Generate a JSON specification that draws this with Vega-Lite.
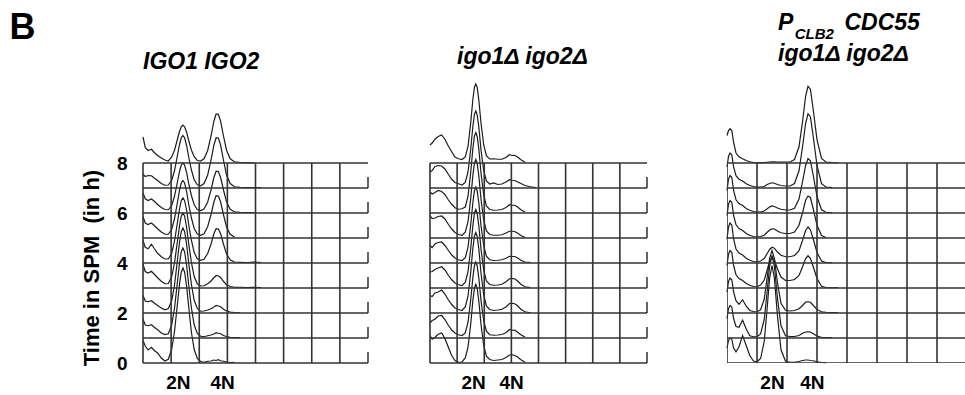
{
  "$schema": "https://vega.github.io/schema/vega-lite/v6.json",
  "background": "white",
  "padding": {"left": 9, "top": 10, "right": 0, "bottom": 0},
  "title": {"text": "B", "fontSize": 36, "fontStyle": "normal", "fontWeight": "bold", "anchor": "start", "frame": "group", "dx": -133.6, "offset": -35, "color": "black"},
  "spacing": 62,
  "bounds": "flush",
  "config": {
    "font": "Liberation Sans",
    "view": {"stroke": null},
    "axis": {"domain": false, "ticks": false, "tickSize": 0, "grid": false, "labelColor": "black", "titleColor": "black", "labelFontWeight": "bold", "titleFontWeight": "bold", "labelFont": "Liberation Sans", "titleFont": "Liberation Sans"},
    "axisX": {"labelFontSize": 19, "labelPadding": 10, "labelAngle": 0, "labelFlush": false, "labelOverlap": false},
    "axisY": {"labelFontSize": 19, "labelPadding": 16, "labelFlush": false, "labelOverlap": false},
    "title": {"font": "Liberation Sans", "fontSize": 23, "fontWeight": "bold", "fontStyle": "italic", "color": "black", "anchor": "start", "frame": "group"}
  },
  "datasets": {
    "p1": [
      {"t": 0, "x": [0,0.08,0.18,0.3,0.4,0.52,0.65,0.78,0.9,1.02,1.12,1.22,1.3,1.36,1.42,1.48,1.55,1.63,1.72,1.82,1.93,2.05,2.17,2.3,2.42,2.52,2.6,2.68,2.76,2.86,2.97,3.1,3.25], "y": [0.9,0.68,0.52,0.63,0.5,0.4,0.2,0.08,0.15,0.55,1.26,2.32,3.17,3.63,3.8,3.63,3.08,2.19,1.24,0.54,0.18,0.06,0.03,0.07,0.08,0.12,0.1,0.13,0.09,0.07,0.04,0.02,0.03]},
      {"t": 1, "x": [0,0.08,0.18,0.3,0.4,0.52,0.65,0.78,0.9,1.02,1.12,1.22,1.3,1.36,1.42,1.48,1.55,1.63,1.72,1.82,1.93,2.05,2.17,2.3,2.42,2.52,2.6,2.68,2.76,2.86,2.97,3.1,3.25,3.45], "y": [1.75,1.52,1.49,1.53,1.43,1.33,1.2,1.14,1.17,1.52,2.19,3.2,4.0,4.44,4.6,4.44,3.92,3.07,2.21,1.53,1.18,1.07,1.05,1.09,1.12,1.16,1.21,1.19,1.17,1.1,1.06,1.03,1.02,1.01]},
      {"t": 2, "x": [0,0.08,0.18,0.3,0.4,0.52,0.65,0.78,0.9,1.02,1.12,1.22,1.3,1.36,1.42,1.48,1.55,1.63,1.72,1.82,1.93,2.05,2.17,2.3,2.42,2.52,2.6,2.68,2.76,2.86,2.97,3.1,3.25,3.45], "y": [2.7,2.48,2.45,2.49,2.4,2.3,2.2,2.13,2.18,2.49,3.11,4.07,4.84,5.25,5.4,5.25,4.75,3.96,3.15,2.51,2.18,2.07,2.08,2.12,2.17,2.24,2.3,2.28,2.25,2.15,2.08,2.04,2.02,2.01]},
      {"t": 3, "x": [0,0.08,0.18,0.3,0.4,0.52,0.65,0.78,0.9,1.02,1.12,1.22,1.3,1.36,1.42,1.48,1.55,1.63,1.72,1.82,1.93,2.05,2.17,2.3,2.42,2.52,2.6,2.68,2.76,2.86,2.97,3.1,3.25,3.45,3.7,3.95,4.2], "y": [3.95,3.66,3.6,3.67,3.55,3.41,3.27,3.17,3.18,3.45,4.0,4.83,5.5,5.87,6.0,5.87,5.43,4.73,4.03,3.46,3.17,3.08,3.09,3.17,3.28,3.41,3.5,3.48,3.42,3.27,3.13,3.06,3.03,3.03,3.02,3.03,3.02]},
      {"t": 4, "x": [0,0.08,0.18,0.3,0.4,0.52,0.65,0.78,0.9,1.02,1.12,1.22,1.3,1.36,1.42,1.48,1.55,1.63,1.72,1.82,1.93,2.05,2.17,2.3,2.42,2.52,2.6,2.68,2.76,2.86,2.97,3.1,3.25,3.45,3.7,3.95,4.2], "y": [4.9,4.63,4.57,4.75,4.58,4.39,4.25,4.16,4.16,4.39,4.87,5.59,6.17,6.49,6.6,6.49,6.11,5.5,4.91,4.42,4.17,4.11,4.15,4.38,4.76,5.17,5.37,5.36,5.17,4.76,4.36,4.13,4.04,4.03,4.02,4.04,4.02]},
      {"t": 5, "x": [0,0.08,0.18,0.3,0.4,0.52,0.65,0.78,0.9,1.02,1.12,1.22,1.3,1.36,1.42,1.48,1.55,1.63,1.72,1.82,1.93,2.05,2.17,2.3,2.42,2.52,2.6,2.68,2.76,2.86,2.97,3.1,3.25], "y": [5.85,5.6,5.54,5.6,5.5,5.37,5.24,5.15,5.15,5.34,5.77,6.4,6.92,7.2,7.3,7.2,6.86,6.32,5.81,5.38,5.16,5.11,5.17,5.46,5.94,6.44,6.69,6.68,6.44,5.94,5.44,5.15,5.04]},
      {"t": 6, "x": [0,0.08,0.18,0.3,0.4,0.52,0.65,0.78,0.9,1.02,1.12,1.22,1.3,1.36,1.42,1.48,1.55,1.63,1.72,1.82,1.93,2.05,2.17,2.3,2.42,2.52,2.6,2.68,2.76,2.86,2.97,3.1,3.25,3.45,3.7,3.95], "y": [6.8,6.57,6.5,6.56,6.47,6.34,6.22,6.14,6.13,6.3,6.67,7.22,7.67,7.91,8.0,7.91,7.62,7.15,6.7,6.33,6.14,6.1,6.16,6.44,6.93,7.42,7.67,7.66,7.42,6.93,6.44,6.15,6.05,6.03,6.02,6.02]},
      {"t": 7, "x": [0,0.08,0.18,0.3,0.4,0.52,0.65,0.78,0.9,1.02,1.12,1.22,1.3,1.36,1.42,1.48,1.55,1.63,1.72,1.82,1.93,2.05,2.17,2.3,2.42,2.52,2.6,2.68,2.76,2.86,2.97,3.1,3.25,3.45,3.7,3.95,4.2], "y": [7.55,7.46,7.5,7.49,7.4,7.3,7.18,7.11,7.12,7.3,7.69,8.28,8.75,9.01,9.1,9.01,8.7,8.21,7.73,7.33,7.13,7.09,7.18,7.52,8.12,8.71,9.01,9.0,8.71,8.12,7.52,7.18,7.05,7.03,7.02,7.02,7.01]},
      {"t": 8, "x": [0,0.08,0.18,0.3,0.4,0.52,0.65,0.78,0.9,1.02,1.12,1.22,1.3,1.36,1.42,1.48,1.55,1.63,1.72,1.82,1.93,2.05,2.17,2.3,2.42,2.52,2.6,2.68,2.76,2.86,2.97,3.1,3.25,3.45,3.7,3.95], "y": [9.04,8.62,8.5,8.55,8.42,8.3,8.2,8.12,8.08,8.24,8.51,8.93,9.27,9.45,9.52,9.45,9.23,8.88,8.52,8.25,8.1,8.08,8.17,8.5,9.09,9.67,9.96,9.95,9.67,9.09,8.51,8.17,8.05,8.02,8.01,8.0]}
    ],
    "p2": [
      {"t": 0, "x": [0,0.08,0.18,0.3,0.43,0.55,0.68,0.8,0.92,1.05,1.18,1.3,1.4,1.5,1.58,1.64,1.69,1.74,1.8,1.88,1.98,2.08,2.2,2.35,2.5,2.65,2.8,2.93,3.03,3.12,3.22,3.35,3.5], "y": [1.1,0.95,1.02,1.15,1.2,0.98,0.62,0.3,0.1,0.03,0.04,0.2,0.62,1.55,2.5,3.0,3.15,2.98,2.48,1.55,0.7,0.27,0.14,0.1,0.12,0.14,0.22,0.32,0.33,0.3,0.25,0.13,0.04]},
      {"t": 1, "x": [0,0.08,0.18,0.3,0.43,0.55,0.68,0.8,0.92,1.05,1.18,1.3,1.4,1.5,1.58,1.64,1.69,1.74,1.8,1.88,1.98,2.08,2.2,2.35,2.5,2.65,2.8,2.93,3.03,3.12,3.22,3.35,3.5], "y": [1.6,1.7,1.75,1.88,1.9,1.74,1.5,1.32,1.2,1.13,1.1,1.2,1.62,2.52,3.42,3.9,4.04,3.88,3.4,2.5,1.68,1.27,1.13,1.11,1.12,1.14,1.21,1.34,1.31,1.32,1.24,1.13,1.04]},
      {"t": 2, "x": [0,0.08,0.18,0.3,0.43,0.55,0.68,0.8,0.92,1.05,1.18,1.3,1.4,1.5,1.58,1.64,1.69,1.74,1.8,1.88,1.98,2.08,2.2,2.35,2.5,2.65,2.8,2.93,3.03,3.12,3.22,3.35,3.5,3.7], "y": [2.7,2.66,2.8,2.84,2.92,2.76,2.52,2.34,2.2,2.14,2.1,2.24,2.66,3.62,4.58,5.08,5.22,5.06,4.57,3.6,2.72,2.28,2.14,2.1,2.12,2.15,2.24,2.38,2.39,2.37,2.3,2.15,2.05,2.01]},
      {"t": 3, "x": [0,0.08,0.18,0.3,0.43,0.55,0.68,0.8,0.92,1.05,1.18,1.3,1.4,1.5,1.58,1.64,1.69,1.74,1.8,1.88,1.98,2.08,2.2,2.35,2.5,2.65,2.8,2.93,3.03,3.12,3.22,3.35,3.5,3.7], "y": [3.64,3.66,3.74,3.8,3.85,3.72,3.5,3.33,3.2,3.13,3.1,3.22,3.64,4.57,5.5,6.0,6.14,5.98,5.49,4.56,3.71,3.28,3.14,3.11,3.12,3.15,3.25,3.37,3.38,3.37,3.29,3.15,3.05,3.02]},
      {"t": 4, "x": [0,0.08,0.18,0.3,0.43,0.55,0.68,0.8,0.92,1.05,1.18,1.3,1.4,1.5,1.58,1.64,1.69,1.74,1.8,1.88,1.98,2.08,2.2,2.35,2.5,2.65,2.8,2.93,3.03,3.12,3.22,3.35,3.5,3.7], "y": [4.7,4.62,4.76,4.82,4.84,4.7,4.5,4.32,4.2,4.13,4.1,4.21,4.62,5.52,6.42,6.9,7.04,6.88,6.41,5.5,4.69,4.27,4.13,4.1,4.11,4.13,4.19,4.27,4.26,4.26,4.21,4.11,4.04,4.03]},
      {"t": 5, "x": [0,0.08,0.18,0.3,0.43,0.55,0.68,0.8,0.92,1.05,1.18,1.3,1.4,1.5,1.58,1.64,1.69,1.74,1.8,1.88,1.98,2.08,2.2,2.35,2.5,2.65,2.8,2.93,3.03,3.12,3.22,3.35,3.5], "y": [5.9,5.78,5.8,5.86,5.88,5.76,5.54,5.36,5.22,5.14,5.11,5.23,5.64,6.57,7.5,8.0,8.14,7.98,7.49,6.56,5.71,5.28,5.14,5.11,5.11,5.13,5.2,5.27,5.27,5.26,5.2,5.1,5.03]},
      {"t": 6, "x": [0,0.08,0.18,0.3,0.43,0.55,0.68,0.8,0.92,1.05,1.18,1.3,1.4,1.5,1.58,1.64,1.69,1.74,1.8,1.88,1.98,2.08,2.2,2.35,2.5,2.65,2.8,2.93,3.03,3.12,3.22,3.35,3.5], "y": [6.84,6.76,6.82,6.9,6.86,6.74,6.52,6.35,6.21,6.15,6.17,6.24,6.66,7.62,8.58,9.08,9.22,9.06,8.57,7.6,6.72,6.28,6.14,6.11,6.12,6.14,6.22,6.33,6.31,6.31,6.25,6.13,6.04]},
      {"t": 7, "x": [0,0.08,0.18,0.3,0.43,0.55,0.68,0.8,0.92,1.05,1.18,1.3,1.4,1.5,1.58,1.64,1.69,1.74,1.8,1.88,1.98,2.08,2.2,2.35,2.5,2.65,2.8,2.93,3.03,3.12,3.22,3.35,3.5,3.7,3.9], "y": [7.64,7.7,7.86,7.9,7.88,7.76,7.54,7.35,7.22,7.17,7.12,7.22,7.63,8.54,9.46,9.95,10.08,9.92,9.44,8.53,7.7,7.28,7.16,7.2,7.14,7.16,7.24,7.33,7.31,7.3,7.25,7.18,7.1,7.05,7.02]},
      {"t": 8, "x": [0,0.08,0.18,0.3,0.43,0.55,0.68,0.8,0.92,1.05,1.18,1.3,1.4,1.5,1.58,1.64,1.69,1.74,1.8,1.88,1.98,2.08,2.2,2.35,2.5,2.65,2.8,2.93,3.03,3.12,3.22,3.35,3.5], "y": [8.72,8.8,8.95,9.06,9.12,8.95,8.67,8.45,8.24,8.17,8.14,8.24,8.65,9.6,10.54,11.04,11.16,11.02,10.52,9.6,8.72,8.28,8.16,8.17,8.15,8.15,8.22,8.33,8.3,8.31,8.25,8.13,8.04]}
    ],
    "p3": [
      {"t": 0, "x": [0,0.05,0.1,0.16,0.22,0.3,0.4,0.52,0.64,0.76,0.88,1.0,1.12,1.24,1.34,1.42,1.5,1.58,1.68,1.8,1.95,2.1,2.25,2.4,2.52,2.62,2.7,2.78,2.88,3.0,3.15,3.3], "y": [0.6,0.9,1.0,0.95,0.6,0.45,0.65,1.1,0.7,0.3,0.08,0.05,0.18,0.86,2.22,3.39,3.9,3.39,1.91,0.53,0.07,0.03,0.03,0.06,0.1,0.12,0.12,0.1,0.09,0.05,0.02,0.01]},
      {"t": 1, "x": [0,0.05,0.1,0.16,0.22,0.3,0.4,0.52,0.64,0.76,0.88,1.0,1.12,1.24,1.34,1.42,1.5,1.58,1.68,1.8,1.95,2.1,2.25,2.4,2.52,2.62,2.7,2.78,2.88,3.0,3.15,3.3,3.5], "y": [1.78,2.17,2.3,2.24,1.78,1.46,1.43,1.71,1.36,1.09,1.05,1.05,1.16,1.73,2.88,3.87,4.3,3.87,2.62,1.49,1.09,1.06,1.06,1.1,1.19,1.24,1.25,1.24,1.17,1.08,1.03,1.02,1.01]},
      {"t": 2, "x": [0,0.05,0.1,0.16,0.22,0.3,0.4,0.52,0.64,0.76,0.88,1.0,1.12,1.24,1.34,1.42,1.5,1.58,1.68,1.8,1.95,2.1,2.25,2.4,2.52,2.62,2.7,2.78,2.88,3.0,3.15,3.3,3.5,3.7], "y": [2.84,3.26,3.4,3.33,2.84,2.49,2.35,2.53,2.27,2.1,2.06,2.05,2.13,2.55,3.43,4.18,4.5,4.18,3.23,2.39,2.11,2.08,2.1,2.17,2.3,2.44,2.45,2.43,2.3,2.14,2.05,2.03,2.02,2.02]},
      {"t": 3, "x": [0,0.05,0.1,0.16,0.22,0.3,0.4,0.52,0.64,0.76,0.88,1.0,1.12,1.24,1.34,1.42,1.5,1.58,1.68,1.8,1.95,2.1,2.25,2.4,2.52,2.62,2.7,2.78,2.88,3.0,3.15,3.3,3.5,3.7], "y": [3.9,4.35,4.5,4.43,3.9,3.53,3.38,3.3,3.18,3.11,3.06,3.05,3.12,3.32,3.72,4.07,4.22,4.12,3.77,3.44,3.3,3.3,3.34,3.5,3.85,4.18,4.29,4.19,3.83,3.38,3.07,3.02,3.01,3.02]},
      {"t": 4, "x": [0,0.05,0.1,0.16,0.22,0.3,0.4,0.52,0.64,0.76,0.88,1.0,1.12,1.24,1.34,1.42,1.5,1.58,1.68,1.8,1.95,2.1,2.25,2.4,2.52,2.62,2.7,2.78,2.88,3.0,3.15,3.3,3.5], "y": [4.96,5.44,5.6,5.52,4.96,4.56,4.4,4.32,4.19,4.11,4.06,4.05,4.08,4.18,4.38,4.54,4.63,4.59,4.44,4.31,4.25,4.25,4.3,4.49,4.91,5.3,5.44,5.33,4.94,4.42,4.08,4.02,4.01]},
      {"t": 5, "x": [0,0.05,0.1,0.16,0.22,0.3,0.4,0.52,0.64,0.76,0.88,1.0,1.12,1.24,1.34,1.42,1.5,1.58,1.68,1.8,1.95,2.1,2.25,2.4,2.52,2.62,2.7,2.78,2.88,3.0,3.15,3.3], "y": [5.9,6.35,6.5,6.43,5.9,5.53,5.38,5.3,5.18,5.11,5.06,5.05,5.06,5.11,5.23,5.32,5.37,5.36,5.28,5.21,5.18,5.18,5.24,5.51,6.02,6.51,6.68,6.62,6.14,5.51,5.1,5.02]},
      {"t": 6, "x": [0,0.05,0.1,0.16,0.22,0.3,0.4,0.52,0.64,0.76,0.88,1.0,1.12,1.24,1.34,1.42,1.5,1.58,1.68,1.8,1.95,2.1,2.25,2.4,2.52,2.62,2.7,2.78,2.88,3.0,3.15,3.3,3.5], "y": [6.9,7.35,7.5,7.43,6.9,6.53,6.38,6.3,6.18,6.11,6.06,6.05,6.04,6.08,6.17,6.24,6.28,6.26,6.2,6.15,6.12,6.12,6.19,6.56,7.27,7.89,8.18,8.09,7.47,6.66,6.13,6.03,6.01]},
      {"t": 7, "x": [0,0.05,0.1,0.16,0.22,0.3,0.4,0.52,0.64,0.76,0.88,1.0,1.12,1.24,1.34,1.42,1.5,1.58,1.68,1.8,1.95,2.1,2.25,2.4,2.52,2.62,2.7,2.78,2.88,3.0,3.15,3.3,3.5], "y": [7.84,8.26,8.4,8.33,7.84,7.49,7.35,7.28,7.17,7.1,7.06,7.04,7.04,7.06,7.14,7.18,7.21,7.19,7.14,7.1,7.08,7.08,7.18,7.69,8.67,9.58,9.97,9.85,9.01,7.9,7.17,7.04,7.02]},
      {"t": 8, "x": [0,0.05,0.1,0.16,0.22,0.3,0.4,0.52,0.64,0.76,0.88,1.0,1.12,1.24,1.34,1.42,1.5,1.58,1.68,1.8,1.95,2.1,2.25,2.4,2.52,2.62,2.7,2.78,2.88,3.0,3.15,3.3,3.5,3.7], "y": [9.1,9.3,9.37,9.3,8.82,8.4,8.25,8.17,8.1,8.05,8.02,8.01,8.01,8.02,8.03,8.04,8.05,8.05,8.04,8.04,8.04,8.04,8.14,8.65,9.67,10.67,11.07,10.95,10.08,8.93,8.18,8.04,8.02,8.01]}
    ]
  },
  "hconcat": [
    {
      "width": 225,
      "height": 282,
      "title": {"text": "IGO1 IGO2", "dx": 0, "offset": 7},
      "layer": [
        {
          "data": {"name": "p1"},
          "transform": [{"flatten": ["x", "y"]}],
          "mark": {"type": "line", "color": "#1c1c1c", "strokeWidth": 1.2},
          "encoding": {
            "x": {"field": "x", "type": "quantitative", "scale": {"domain": [0, 8], "nice": false}, "axis": {"values": [1.24, 2.81], "labelExpr": "datum.value < 2 ? '2N' : '4N'", "title": null, "labelFontSize": 19}},
            "y": {"field": "y", "type": "quantitative", "scale": {"domain": [0, 11.28], "nice": false}, "axis": {"values": [0, 2, 4, 6, 8], "labelFontSize": 19, "title": "Time in SPM\u00a0 (in h)", "titleFontSize": 22, "titleX": -45, "titleY": 186.5, "titleBaseline": "alphabetic", "titleAngle": 270, "titleAlign": "center"}},
            "detail": {"field": "t", "type": "nominal"}
          }
        },
        {
          "data": {"values": [{"c": 0}, {"c": 1}, {"c": 2}, {"c": 3}, {"c": 4}, {"c": 5}, {"c": 6}, {"c": 7}]},
          "mark": {"type": "rule", "color": "#333333", "strokeWidth": 1.6},
          "encoding": {
            "x": {"field": "c", "type": "quantitative"},
            "y": {"datum": 0, "type": "quantitative"},
            "y2": {"datum": 8}
          }
        },
        {
          "mark": {"type": "rule", "color": "#555555", "strokeWidth": 1.3},
          "encoding": {
            "x": {"datum": 8, "type": "quantitative"},
            "y": {"datum": 0, "type": "quantitative"},
            "y2": {"datum": 11.24}
          }
        },
        {
          "data": {"values": [{"t": 0}, {"t": 1}, {"t": 2}, {"t": 3}, {"t": 4}, {"t": 5}, {"t": 6}, {"t": 7}, {"t": 8}]},
          "mark": {"type": "rule", "color": "#333333", "strokeWidth": 1.6},
          "encoding": {
            "y": {"field": "t", "type": "quantitative"},
            "x": {"datum": 0, "type": "quantitative"},
            "x2": {"datum": 8}
          }
        },
        {
          "data": {"values": [{"t": 0}, {"t": 1}, {"t": 2}, {"t": 3}, {"t": 4}, {"t": 5}, {"t": 6}, {"t": 7}]},
          "mark": {"type": "tick", "orient": "vertical", "size": 11, "thickness": 2, "yOffset": -5.5, "color": "#222222"},
          "encoding": {
            "y": {"field": "t", "type": "quantitative"},
            "x": {"datum": 8, "type": "quantitative"}
          }
        }
      ]
    },
    {
      "width": 235,
      "height": 282,
      "title": {"text": "igo1Δ igo2Δ", "dx": 27, "offset": 12.5},
      "layer": [
        {
          "data": {"name": "p2"},
          "transform": [{"flatten": ["x", "y"]}],
          "mark": {"type": "line", "color": "#1c1c1c", "strokeWidth": 1.2},
          "encoding": {
            "x": {"field": "x", "type": "quantitative", "scale": {"domain": [0, 8.664], "nice": false}, "axis": {"values": [1.59, 2.99], "labelExpr": "datum.value < 2.2 ? '2N' : '4N'", "title": null, "labelFontSize": 19}},
            "y": {"field": "y", "type": "quantitative", "scale": {"domain": [0, 11.28], "nice": false}, "axis": null},
            "detail": {"field": "t", "type": "nominal"}
          }
        },
        {
          "data": {"values": [{"c": 0}, {"c": 1}, {"c": 2}, {"c": 3}, {"c": 4}, {"c": 5}, {"c": 6}, {"c": 7}]},
          "mark": {"type": "rule", "color": "#333333", "strokeWidth": 1.6},
          "encoding": {
            "x": {"field": "c", "type": "quantitative"},
            "y": {"datum": 0, "type": "quantitative", "axis": null},
            "y2": {"datum": 8}
          }
        },
        {
          "mark": {"type": "rule", "color": "#555555", "strokeWidth": 1.3},
          "encoding": {
            "x": {"datum": 8, "type": "quantitative"},
            "y": {"datum": 0, "type": "quantitative", "axis": null},
            "y2": {"datum": 10.28}
          }
        },
        {
          "data": {"values": [{"t": 0}, {"t": 1}, {"t": 2}, {"t": 3}, {"t": 4}, {"t": 5}, {"t": 6}, {"t": 7}, {"t": 8}]},
          "mark": {"type": "rule", "color": "#333333", "strokeWidth": 1.6},
          "encoding": {
            "y": {"field": "t", "type": "quantitative", "axis": null},
            "x": {"datum": 0, "type": "quantitative"},
            "x2": {"datum": 8}
          }
        },
        {
          "data": {"values": [{"t": 0}, {"t": 1}, {"t": 2}, {"t": 3}, {"t": 4}, {"t": 5}, {"t": 6}, {"t": 7}]},
          "mark": {"type": "tick", "orient": "vertical", "size": 11, "thickness": 2, "yOffset": -5.5, "color": "#222222"},
          "encoding": {
            "y": {"field": "t", "type": "quantitative", "axis": null},
            "x": {"datum": 8, "type": "quantitative"}
          }
        }
      ]
    },
    {
      "width": 238,
      "height": 282,
      "title": {"text": ["P\u00a0\u00a0\u00a0\u00a0\u00a0\u00a0\u00a0\u00a0CDC55", "igo1Δ igo2Δ"], "lineHeight": 31, "dx": 51, "offset": 15, "subtitle": "\u200b\u00a0\u00a0\u00a0\u00a0CLB2", "subtitleFontSize": 15, "subtitleFontWeight": "bold", "subtitleFontStyle": "italic", "subtitleColor": "black", "subtitleFont": "Liberation Sans", "subtitlePadding": -39},
      "layer": [
        {
          "data": {"name": "p3"},
          "transform": [{"flatten": ["x", "y"]}],
          "mark": {"type": "line", "color": "#1c1c1c", "strokeWidth": 1.2},
          "encoding": {
            "x": {"field": "x", "type": "quantitative", "scale": {"domain": [0, 7.933], "nice": false}, "axis": {"values": [1.5, 2.83], "labelExpr": "datum.value < 2.2 ? '2N' : '4N'", "title": null, "labelFontSize": 19}},
            "y": {"field": "y", "type": "quantitative", "scale": {"domain": [0, 11.28], "nice": false}, "axis": null},
            "detail": {"field": "t", "type": "nominal"}
          }
        },
        {
          "data": {"values": [{"c": 0}, {"c": 1}, {"c": 2}, {"c": 3}, {"c": 4}, {"c": 5}, {"c": 6}, {"c": 7}]},
          "mark": {"type": "rule", "color": "#333333", "strokeWidth": 1.6, "clip": true},
          "encoding": {
            "x": {"field": "c", "type": "quantitative"},
            "y": {"datum": 0, "type": "quantitative", "axis": null},
            "y2": {"datum": 8}
          }
        },
        {
          "data": {"values": [{"t": 0}, {"t": 1}, {"t": 2}, {"t": 3}, {"t": 4}, {"t": 5}, {"t": 6}, {"t": 7}, {"t": 8}]},
          "mark": {"type": "rule", "color": "#333333", "strokeWidth": 1.6, "clip": true},
          "encoding": {
            "y": {"field": "t", "type": "quantitative", "axis": null},
            "x": {"datum": 0, "type": "quantitative"},
            "x2": {"datum": 8}
          }
        }
      ]
    }
  ]
}
